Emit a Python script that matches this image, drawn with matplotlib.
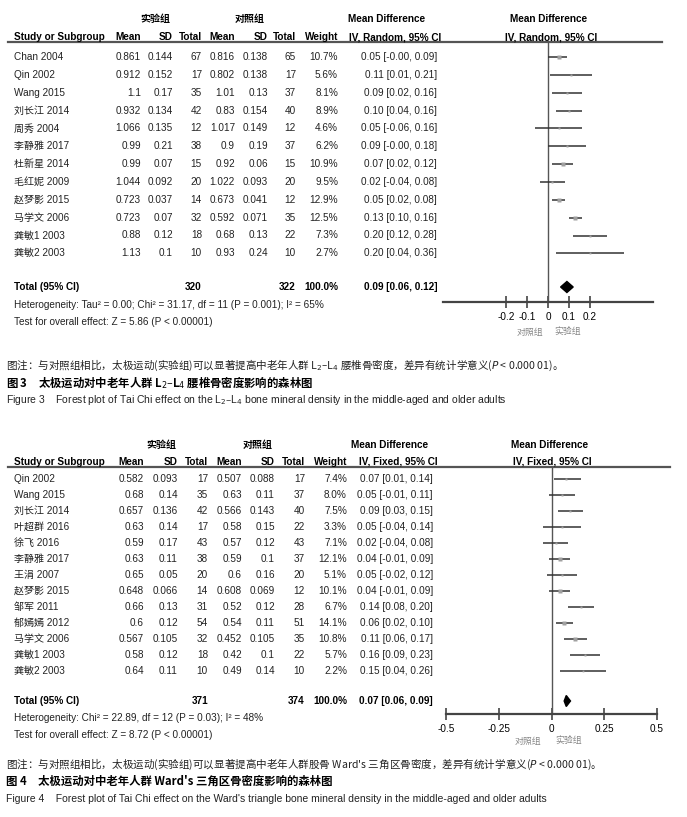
import matplotlib
matplotlib.use("Agg")
import matplotlib.pyplot as plt
from matplotlib import font_manager
from matplotlib.lines import Line2D
from matplotlib.patches import Polygon

# ---- data: figure 3 (L2-L4, random effects) ----
studies3 = ["Chan 2004", "Qin 2002", "Wang 2015", "刘长江 2014", "周秀 2004", "李静雅 2017",
            "杜新星 2014", "毛红妮 2009", "赵梦影 2015", "马学文 2006", "龚敏1 2003", "龚敏2 2003"]
exp_mean3 = [0.861, 0.912, 1.1, 0.932, 1.066, 0.99, 0.99, 1.044, 0.723, 0.723, 0.88, 1.13]
exp_sd3 = [0.144, 0.152, 0.17, 0.134, 0.135, 0.21, 0.07, 0.092, 0.037, 0.07, 0.12, 0.1]
exp_n3 = [67, 17, 35, 42, 12, 38, 15, 20, 14, 32, 18, 10]
ctl_mean3 = [0.816, 0.802, 1.01, 0.83, 1.017, 0.9, 0.92, 1.022, 0.673, 0.592, 0.68, 0.93]
ctl_sd3 = [0.138, 0.138, 0.13, 0.154, 0.149, 0.19, 0.06, 0.093, 0.041, 0.071, 0.13, 0.24]
ctl_n3 = [65, 17, 37, 40, 12, 37, 15, 20, 12, 35, 22, 10]
weight3 = [10.7, 5.6, 8.1, 8.9, 4.6, 6.2, 10.9, 9.5, 12.9, 12.5, 7.3, 2.7]
md3 = [0.05, 0.11, 0.09, 0.10, 0.05, 0.09, 0.07, 0.02, 0.05, 0.13, 0.20, 0.20]
lo3 = [-0.0, 0.01, 0.02, 0.04, -0.06, -0.0, 0.02, -0.04, 0.02, 0.10, 0.12, 0.04]
hi3 = [0.09, 0.21, 0.16, 0.16, 0.16, 0.18, 0.12, 0.08, 0.08, 0.16, 0.28, 0.36]
total3 = (320, 322, 0.09, 0.06, 0.12)

# ---- data: figure 4 (Ward's triangle, fixed effects) ----
studies4 = ["Qin 2002", "Wang 2015", "刘长江 2014", "叶超群 2016", "徐飞 2016", "李静雅 2017",
            "王涓 2007", "赵梦影 2015", "邹军 2011", "郁嫣嫣 2012", "马学文 2006", "龚敏1 2003", "龚敏2 2003"]
exp_mean4 = [0.582, 0.68, 0.657, 0.63, 0.59, 0.63, 0.65, 0.648, 0.66, 0.6, 0.567, 0.58, 0.64]
exp_sd4 = [0.093, 0.14, 0.136, 0.14, 0.17, 0.11, 0.05, 0.066, 0.13, 0.12, 0.105, 0.12, 0.11]
exp_n4 = [17, 35, 42, 17, 43, 38, 20, 14, 31, 54, 32, 18, 10]
ctl_mean4 = [0.507, 0.63, 0.566, 0.58, 0.57, 0.59, 0.6, 0.608, 0.52, 0.54, 0.452, 0.42, 0.49]
ctl_sd4 = [0.088, 0.11, 0.143, 0.15, 0.12, 0.1, 0.16, 0.069, 0.12, 0.11, 0.105, 0.1, 0.14]
ctl_n4 = [17, 37, 40, 22, 43, 37, 20, 12, 28, 51, 35, 22, 10]
weight4 = [7.4, 8.0, 7.5, 3.3, 7.1, 12.1, 5.1, 10.1, 6.7, 14.1, 10.8, 5.7, 2.2]
md4 = [0.07, 0.05, 0.09, 0.05, 0.02, 0.04, 0.05, 0.04, 0.14, 0.06, 0.11, 0.16, 0.15]
lo4 = [0.01, -0.01, 0.03, -0.04, -0.04, -0.01, -0.02, -0.01, 0.08, 0.02, 0.06, 0.09, 0.04]
hi4 = [0.14, 0.11, 0.15, 0.14, 0.08, 0.09, 0.12, 0.09, 0.20, 0.10, 0.17, 0.23, 0.26]
total4 = (371, 374, 0.07, 0.06, 0.09)

W, H = 687, 817
names = {f.name for f in font_manager.fontManager.ttflist}
NARROW = "Liberation Sans Narrow" in names
LAT = "Liberation Sans Narrow" if NARROW else "Liberation Sans"
FS = 8.6 if NARROW else 7.2
plt.rcParams["font.family"] = [LAT, "Noto Sans CJK SC", "DejaVu Sans"]

fig = plt.figure(figsize=(W / 100, H / 100), dpi=100)


def T(x, y, s, ha="left", size=FS, **kw):
    fig.text(x / W, 1 - y / H, s, ha=ha, va="center", size=size, **kw)


def hline(x0, x1, y, lw=1.6, color="#555555"):
    fig.add_artist(Line2D([x0 / W, x1 / W], [1 - y / H, 1 - y / H], lw=lw, color=color))


def panel(cfg, studies, em, es, en, cm, cs, cn, wt, md, lo, hi, total):
    cols = cfg["cols"]
    y0, dy = cfg["row0"], cfg["dy"]
    # group headers
    T(cfg["grp"][0], cfg["ygrp"], "实验组", ha="center", fontweight="bold", family="Noto Sans CJK SC", size=FS)
    T(cfg["grp"][1], cfg["ygrp"], "对照组", ha="center", fontweight="bold", family="Noto Sans CJK SC", size=FS)
    T(cfg["mdc"], cfg["ygrp"], "Mean Difference", ha="center", fontweight="bold")
    T(cfg["fpc"], cfg["ygrp"], "Mean Difference", ha="center", fontweight="bold")
    yh = cfg["yhead"]
    T(14, yh, "Study or Subgroup", fontweight="bold")
    for x, s in zip(cols, ["Mean", "SD", "Total", "Mean", "SD", "Total", "Weight"]):
        T(x, yh, s, ha="right", fontweight="bold")
    T(cfg["mdc"] + 8, yh, cfg["method"], ha="center", fontweight="bold")
    T(cfg["fpc"] + 2, yh, cfg["method"], ha="center", fontweight="bold")
    hline(8, cfg["lineend"], cfg["yline"])

    for i, name in enumerate(studies):
        y = y0 + dy * i
        T(14, y, name, color="#222222")
        vals = [str(em[i]), str(es[i]), str(en[i]), str(cm[i]), str(cs[i]), str(cn[i]), f"{wt[i]:.1f}%"]
        for x, s in zip(cols, vals):
            T(x, y, s, ha="right", color="#222222")
        T(cfg["mdr"], y, f"{md[i]:.2f} [{lo[i]:.2f}, {hi[i]:.2f}]", ha="right", color="#222222")

    yt = cfg["ytot"]
    T(14, yt, "Total (95% CI)", fontweight="bold")
    T(cols[2], yt, str(total[0]), ha="right", fontweight="bold")
    T(cols[5], yt, str(total[1]), ha="right", fontweight="bold")
    T(cols[6], yt, "100.0%", ha="right", fontweight="bold")
    T(cfg["mdr"], yt, f"{total[2]:.2f} [{total[3]:.2f}, {total[4]:.2f}]", ha="right", fontweight="bold")
    T(14, yt + cfg["dstat"], cfg["het"], color="#222222")
    T(14, yt + 2 * cfg["dstat"], cfg["test"], color="#222222")

    # forest plot axes, y measured in pixels
    x0, x1 = cfg["axx"]
    ytop, ybot = cfg["yline"], cfg["yaxis"]
    ax = fig.add_axes([x0 / W, 1 - ybot / H, (x1 - x0) / W, (ybot - ytop) / H])
    ax.set_xlim(-0.5, 0.5)
    ax.set_ylim(ybot, ytop)
    ax.patch.set_alpha(0)
    for s in ["top", "left", "right"]:
        ax.spines[s].set_visible(False)
    ax.spines["bottom"].set_linewidth(1.6)
    ax.spines["bottom"].set_color("#444444")
    ax.set_yticks([])
    ax.set_xticks(cfg["ticks"])
    ax.set_xticklabels(cfg["ticklabels"])
    ax.tick_params(axis="x", direction="inout", length=9, width=1.2, color="#444444",
                   labelsize=FS, pad=3)
    ax.axvline(0, color="#555555", lw=1)
    for i in range(len(studies)):
        y = y0 + dy * i
        ax.plot([lo[i], hi[i]], [y, y], color="#333333", lw=1.1, solid_capstyle="butt")
        ax.plot(md[i], y, "s", color="#a0a0a0", ms=1.0 + 0.12 * wt[i], mec="none")
    dh = 5.5
    ax.add_patch(Polygon([(total[3], yt), (total[2], yt - dh), (total[4], yt), (total[2], yt + dh)],
                         closed=True, color="black"))
    T(cfg["favy"][0], cfg["favy"][2], "对照组", ha="center", color="#888888", family="Noto Sans CJK SC", size=FS - 0.8)
    T(cfg["favy"][1], cfg["favy"][2], "实验组", ha="center", color="#888888", family="Noto Sans CJK SC", size=FS - 0.8)

    cy = cfg["cap"]
    T(6, cy, cfg["note"], size=7.6, family=["Noto Sans CJK SC", "DejaVu Sans"], color="#222222")
    T(6, cy + 17.5, cfg["title_cn"], size=8.2, fontweight="bold", family=["Noto Sans CJK SC", "DejaVu Sans"])
    T(6, cy + 35, cfg["title_en"], size=7.5, family=["Liberation Sans", "DejaVu Sans"], color="#222222")


cfg3 = dict(cols=[141, 173, 202, 235, 268, 296, 338], row0=57, dy=17.85, grp=(155, 250), ygrp=19,
            yhead=37, yline=42, lineend=662, mdc=387, fpc=549, mdr=437, method="IV, Random, 95% CI",
            ytot=287, dstat=17.5, axx=(443, 653), yaxis=302,
            ticks=[-0.2, -0.1, 0, 0.1, 0.2], ticklabels=["-0.2", "-0.1", "0", "0.1", "0.2"],
            favy=(530, 568, 332),
            het="Heterogeneity: Tau² = 0.00; Chi² = 31.17, df = 11 (P = 0.001); I² = 65%",
            test="Test for overall effect: Z = 5.86 (P < 0.00001)",
            cap=365,
            note="图注：与对照组相比，太极运动(实验组)可以显著提高中老年人群 L$_2$–L$_4$ 腰椎骨密度，差异有统计学意义($P$ < 0.000 01)。",
            title_cn="图 3　太极运动对中老年人群 L$_2$–L$_4$ 腰椎骨密度影响的森林图",
            title_en="Figure 3    Forest plot of Tai Chi effect on the L$_2$–L$_4$ bone mineral density in the middle-aged and older adults")

cfg4 = dict(cols=[144, 178, 208, 242, 275, 305, 347], row0=479, dy=16.0, grp=(161, 258), ygrp=445,
            yhead=462, yline=467, lineend=670, mdc=390, fpc=550, mdr=433, method="IV, Fixed, 95% CI",
            ytot=701, dstat=17, axx=(446, 657), yaxis=714,
            ticks=[-0.5, -0.25, 0, 0.25, 0.5], ticklabels=["-0.5", "-0.25", "0", "0.25", "0.5"],
            favy=(528, 569, 741),
            het="Heterogeneity: Chi² = 22.89, df = 12 (P = 0.03); I² = 48%",
            test="Test for overall effect: Z = 8.72 (P < 0.00001)",
            cap=764,
            note="图注：与对照组相比，太极运动(实验组)可以显著提高中老年人群股骨 Ward's 三角区骨密度，差异有统计学意义($P$ < 0.000 01)。",
            title_cn="图 4　太极运动对中老年人群 Ward's 三角区骨密度影响的森林图",
            title_en="Figure 4    Forest plot of Tai Chi effect on the Ward's triangle bone mineral density in the middle-aged and older adults")

panel(cfg3, studies3, exp_mean3, exp_sd3, exp_n3, ctl_mean3, ctl_sd3, ctl_n3, weight3, md3, lo3, hi3, total3)
panel(cfg4, studies4, exp_mean4, exp_sd4, exp_n4, ctl_mean4, ctl_sd4, ctl_n4, weight4, md4, lo4, hi4, total4)

fig.savefig("out.png", dpi=100, facecolor="white")
